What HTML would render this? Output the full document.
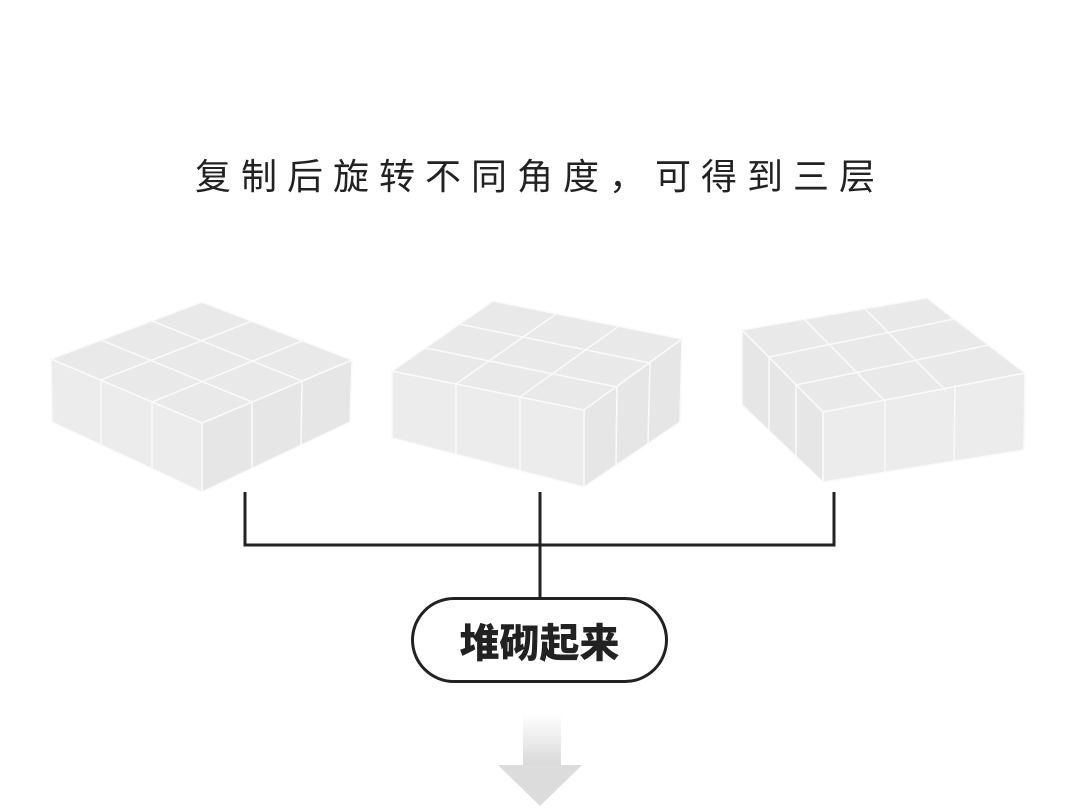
<!DOCTYPE html>
<html><head><meta charset="utf-8"><style>
body{margin:0;width:1080px;height:810px;background:#fff;overflow:hidden;position:relative}
.t{position:absolute;left:0;width:1080px;top:148px;text-align:center;font:36px "Liberation Sans","Noto Sans CJK SC",sans-serif;letter-spacing:10px;color:#222}
.p{position:absolute;left:411px;top:597px;width:251px;height:80px;border:3px solid #222;border-radius:44px;text-align:center;font:900 40px "Noto Sans CJK SC",sans-serif;line-height:80px;color:#222}
</style></head><body>
<div class="t">复制后旋转不同角度，可得到三层</div>
<svg width="1080" height="810" style="position:absolute;left:0;top:0">
<defs><linearGradient id="g" x1="0" y1="0" x2="0" y2="1"><stop offset="0" stop-color="#fff"/><stop offset="1" stop-color="#d8d8d8"/></linearGradient></defs>
<g stroke="#fafafa" stroke-width="1.5">
<polygon points="51,359 202,423 202,492 52,422" fill="#ececec"/>
<polygon points="202,423 352,360 350,422 202,492" fill="#e6e6e6"/>
<polygon points="202,302 352,360 202,423 51,359" fill="#e9e9e9"/>
<line x1="101" y1="340" x2="252" y2="402"/><line x1="152" y1="321" x2="302" y2="381"/>
<line x1="252" y1="321" x2="101" y2="380"/><line x1="302" y1="341" x2="152" y2="402"/>
<line x1="101" y1="380" x2="101" y2="445"/><line x1="152" y1="402" x2="152" y2="469"/>
<line x1="252" y1="402" x2="252" y2="469"/><line x1="302" y1="381" x2="301" y2="445"/>
<polygon points="392,371 584,410 584,487 392,438" fill="#ececec"/>
<polygon points="584,410 682,339 680,422 584,487" fill="#e6e6e6"/>
<polygon points="493,301 682,339 584,410 392,371" fill="#e9e9e9"/>
<line x1="459" y1="324" x2="650" y2="363"/><line x1="426" y1="348" x2="617" y2="387"/>
<line x1="556" y1="314" x2="456" y2="384"/><line x1="619" y1="326" x2="520" y2="397"/>
<line x1="456" y1="384" x2="456" y2="454"/><line x1="520" y1="397" x2="520" y2="471"/>
<line x1="617" y1="387" x2="616" y2="465"/><line x1="650" y1="363" x2="648" y2="444"/>
<polygon points="742,330 823,412 823,482 742,405" fill="#e6e6e6"/>
<polygon points="823,412 1025,373 1024,450 823,482" fill="#ececec"/>
<polygon points="742,330 927,298 1025,373 823,412" fill="#e9e9e9"/>
<line x1="769" y1="357" x2="954" y2="319"/><line x1="796" y1="385" x2="989" y2="345"/>
<line x1="804" y1="319" x2="885" y2="401"/><line x1="865" y1="309" x2="946" y2="391"/>
<line x1="769" y1="357" x2="769" y2="431"/><line x1="796" y1="385" x2="796" y2="457"/>
<line x1="885" y1="401" x2="885" y2="472"/><line x1="955" y1="387" x2="954" y2="461"/>
</g>
<g stroke="#222" stroke-width="3" fill="none">
<path d="M245 492V545H834V492M540 492V597"/>
</g>
<rect x="523" y="714" width="38" height="52" fill="url(#g)"/>
<polygon points="498,765 582,765 540,806" fill="#dcdcdc"/>
</svg>
<div class="p">堆砌起来</div>
</body></html>
